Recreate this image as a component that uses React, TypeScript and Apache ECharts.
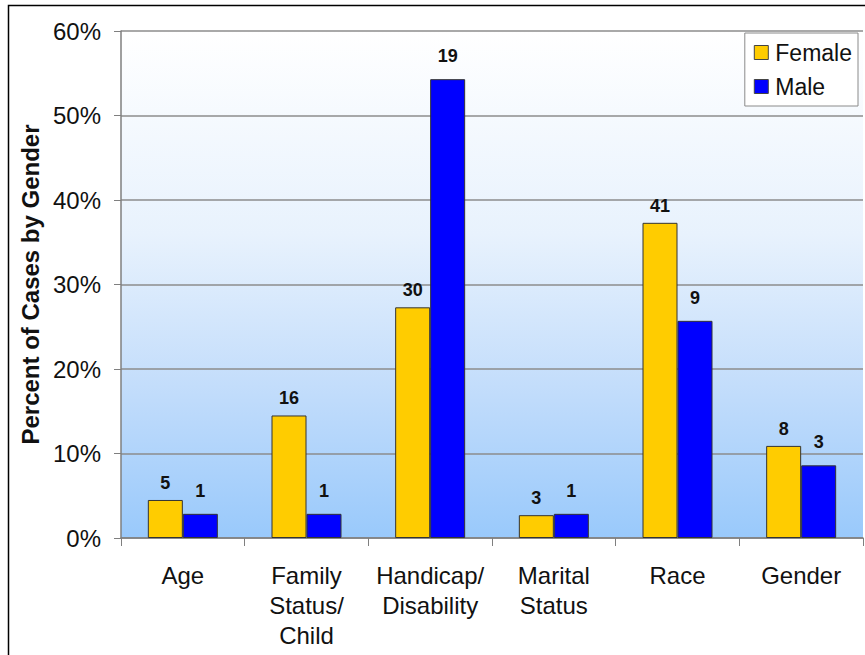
import React, { useEffect, useRef } from "react";
import * as echarts from "echarts";

const categories = ["Age", "Family\nStatus/\nChild", "Handicap/\nDisability", "Marital\nStatus", "Race", "Gender"];
const femalePct = [4.5, 14.5, 27.3, 2.7, 37.3, 10.9];
const malePct = [2.86, 2.86, 54.3, 2.86, 25.7, 8.6];
const femaleCounts = [5, 16, 30, 3, 41, 8];
const maleCounts = [1, 1, 19, 1, 9, 3];
const yTicks = [0, 10, 20, 30, 40, 50, 60];

export default function App() {
  const ref = useRef<HTMLDivElement>(null);
  useEffect(() => {
    if (!ref.current) return;
    const chart = echarts.init(ref.current, null, { renderer: "svg" });
    const font = "Liberation Sans, Arial, sans-serif";
    const labelStyle = (counts: number[], dist: number) => ({
      show: true,
      position: "top" as const,
      distance: dist,
      fontFamily: font,
      fontWeight: "bold" as const,
      fontSize: 18,
      color: "#111",
      formatter: (p: any) => String(counts[p.dataIndex]),
    });
    chart.setOption({
      animation: false,
      backgroundColor: "#ffffff",
      textStyle: { fontFamily: font },
      graphic: [
        {
          type: "rect",
          shape: { x: 8.5, y: 5.5, width: 880, height: 700 },
          style: { fill: "none", stroke: "#000", lineWidth: 1.5 },
          z: 100,
        },
      ],
      grid: {
        left: 121,
        top: 31,
        right: 2,
        bottom: 117,
        show: true,
        borderWidth: 0,
        backgroundColor: new echarts.graphic.LinearGradient(0, 0, 0, 1, [
          { offset: 0, color: "#ffffff" },
          { offset: 0.4, color: "#e8f2fd" },
          { offset: 0.7, color: "#c3ddfb" },
          { offset: 1, color: "#99c9fb" },
        ]),
      },
      legend: {
        right: 7,
        top: 33,
        orient: "vertical",
        backgroundColor: "#ffffff",
        borderColor: "#8a8a8a",
        borderWidth: 1,
        padding: [8, 6, 8, 9],
        itemWidth: 14,
        itemHeight: 14,
        itemGap: 11,
        icon: "rect",
        textStyle: { fontFamily: font, fontSize: 23, color: "#111", padding: [0, 0, 0, 2] },
        data: [
          { name: "Female", itemStyle: { color: "#ffcc00", borderColor: "#444", borderWidth: 1 } },
          { name: "Male", itemStyle: { color: "#0000ff", borderColor: "#444", borderWidth: 1 } },
        ],
      },
      xAxis: {
        type: "category",
        data: categories,
        boundaryGap: true,
        axisLine: { show: true, lineStyle: { color: "#7f7f7f", width: 1.5 } },
        axisTick: { show: true, length: 8, alignWithLabel: false, lineStyle: { color: "#7f7f7f" } },
        axisLabel: {
          fontFamily: font,
          fontSize: 24,
          color: "#111",
          margin: 22,
          lineHeight: 30,
          interval: 0,
        },
      },
      yAxis: {
        type: "value",
        min: 0,
        max: 60,
        interval: 10,
        name: "Percent of Cases by Gender",
        nameLocation: "middle",
        nameRotate: 90,
        nameGap: 76,
        nameTextStyle: { fontFamily: font, fontSize: 24, fontWeight: "bold", color: "#111" },
        axisLine: { show: true, lineStyle: { color: "#7f7f7f", width: 1.5 } },
        axisTick: { show: true, length: 7, lineStyle: { color: "#7f7f7f" } },
        splitLine: { show: true, lineStyle: { color: "#8c8c8c", width: 1.5 } },
        axisLabel: {
          fontFamily: font,
          fontSize: 24,
          color: "#111",
          margin: 20,
          formatter: (v: number) => (yTicks.includes(v) ? v + "%" : ""),
        },
      },
      series: [
        {
          name: "Female",
          type: "bar",
          data: femalePct,
          barWidth: 35,
          barGap: "0%",
          itemStyle: { color: "#ffcc00", borderColor: "#333", borderWidth: 1 },
          label: labelStyle(femaleCounts, 8),
        },
        {
          name: "Male",
          type: "bar",
          data: malePct,
          barWidth: 35,
          barGap: "0%",
          itemStyle: { color: "#0000ff", borderColor: "#333", borderWidth: 1 },
          label: labelStyle(maleCounts, 14),
        },
      ],
    });
    return () => chart.dispose();
  }, []);
  return (
    <div
      ref={ref}
      style={{ position: "absolute", left: 0, top: 0, width: 865, height: 655 }}
    />
  );
}
